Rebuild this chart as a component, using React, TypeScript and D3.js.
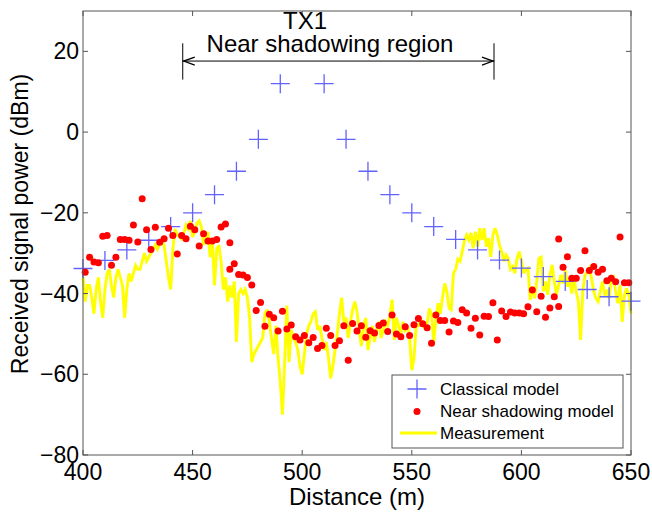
import React from "react";
import * as d3 from "d3";

const xTicks = [400, 450, 500, 550, 600, 650];
const yTicks = [-80, -60, -40, -20, 0, 20];

const classicalX = [400, 410, 420, 430, 440, 450, 460, 470, 480, 490, 510, 520, 530, 540, 550, 560, 570, 580, 590, 600, 610, 620, 630, 640, 650];
const classicalY = [-33.8, -31.8, -29.2, -26.8, -23.4, -20, -15.5, -9.7, -1.8, 12.0, 12.0, -1.8, -9.7, -15.5, -20, -23.4, -26.6, -29.2, -31.7, -33.7, -35.8, -37.0, -39.0, -40.8, -41.9];

const nearX = [401, 403, 405, 407, 409, 411, 413, 415, 417, 419, 421, 423, 425, 427, 429, 431, 433, 435, 437, 439, 441, 443, 445, 447, 449, 451, 453, 455, 457, 459, 461, 463, 465, 467, 467, 469, 471, 473, 475, 477, 479, 481, 483, 485, 487, 489, 491, 493, 495, 497, 499, 501, 503, 505, 507, 509, 511, 513, 515, 517, 519, 521, 523, 525, 527, 529, 531, 533, 535, 537, 539, 541, 543, 545, 547, 549, 551, 553, 555, 557, 559, 561, 563, 565, 567, 569, 571, 573, 575, 577, 579, 581, 583, 585, 587, 589, 591, 593, 595, 597, 599, 601, 603, 605, 607, 609, 611, 613, 615, 617, 617, 619, 621, 623, 625, 627, 629, 631, 633, 635, 637, 639, 641, 643, 645, 647, 649];
const nearY = [-34.7, -31.0, -32.2, -32.4, -25.8, -25.6, -33.0, -31.0, -26.6, -26.6, -26.8, -23.0, -27.2, -16.5, -24.2, -29.1, -23.6, -27.3, -26.4, -23.8, -25.6, -30.2, -25.6, -26.4, -23.3, -24.2, -28.2, -25.2, -27.0, -27.0, -26.6, -23.5, -22.8, -27.4, -34.0, -32.6, -35.3, -35.4, -36.0, -37.9, -44.2, -42.2, -48.1, -45.1, -46.0, -49.3, -44.4, -48.8, -47.8, -50.7, -51.5, -50.4, -52.2, -50.9, -53.6, -52.9, -48.6, -50.4, -52.9, -51.7, -48.0, -56.5, -47.4, -49.3, -48.0, -50.8, -49.2, -49.8, -47.9, -47.3, -49.4, -45.3, -50.0, -50.7, -48.2, -50.4, -47.7, -46.2, -47.5, -48.5, -52.3, -45.3, -46.7, -46.7, -49.5, -46.8, -47.2, -44.0, -44.8, -48.6, -46.1, -50.3, -45.6, -45.7, -42.3, -51.5, -44.3, -45.7, -44.6, -44.8, -44.8, -45.0, -43.3, -39.1, -44.5, -40.7, -45.9, -43.6, -40.8, -43.2, -26.5, -33.5, -30.9, -36.2, -36.2, -34.3, -29.4, -34.3, -33.3, -34.7, -34.0, -36.8, -36.2, -37.1, -26.0, -37.3, -37.3];

const measStart = 400;
const measY = [
  -36, -42, -38, -38, -41, -45, -39, -36, -42, -46,
  -39, -35, -34, -38, -41, -36, -34, -36, -38, -46,
  -39, -35, -37, -35, -33, -34, -34, -32, -30, -32,
  -31, -30, -29, -28, -29, -27.5, -27, -28, -32, -36,
  -39, -29, -24, -25.5, -26, -26.5, -25, -23, -24, -22,
  -26, -24.5, -22.5, -22, -23.5, -28, -25, -25, -31, -27,
  -38, -29, -28, -32, -39, -36, -42, -38, -41, -37,
  -52, -40, -39, -40, -39, -41, -46, -57, -55, -54,
  -53, -52, -51, -45, -44, -47, -51, -55, -48, -56,
  -62, -70, -57, -43, -57, -49, -51, -52, -54, -58,
  -60, -55, -50, -48, -47, -45, -44.5, -49, -48, -51,
  -54, -52, -56, -61, -58, -54, -50, -45, -41, -47,
  -46, -51, -47, -44, -42, -44.5, -49, -53, -48, -46,
  -54, -51, -48, -52, -49, -47, -51, -49, -47, -48,
  -45.5, -41.5, -51.5, -46, -48, -50, -47, -49, -48, -51,
  -59, -56, -48, -48, -46, -48, -48.6, -47.4, -43.7, -45,
  -52, -46.5, -42.4, -45, -41, -37.5, -39.5, -43.6, -44, -35,
  -34, -31.5, -32, -29.6, -27, -25.5, -26.7, -25, -28.8, -24.7,
  -28.4, -23.8, -26.7, -23.8, -28.4, -26.3, -30.9, -25.5, -23.8, -25.5,
  -28, -29.6, -32, -30.4, -31.3, -34, -33.3, -35, -31.3, -29.6,
  -32, -35, -34, -33.7, -41.6, -38.3, -41.2, -37, -31.3, -31,
  -39.5, -37, -40.3, -35.4, -32.9, -37, -40.3, -37.9, -35.4, -37.5,
  -34.2, -38.3, -36.2, -40, -36.2, -39.5, -42, -51.5, -39.5, -35.5,
  -34.6, -33.7, -36.2, -39.5, -41.2, -42, -39.5, -37, -40.3, -39.5,
  -41.2, -36.2, -35.8, -39.5, -42.4, -37.9, -47, -40.3, -38.7, -40.3,
  -44.9
];

const regionStart = 445.5;
const regionEnd = 587.5;
const regionArrowY = 17.6;
const regionBarTop = 22;
const regionBarBottom = 13;

const legendLabels = ["Classical model", "Near shadowing model", "Measurement"];

const FONT = "'Liberation Sans', Arial, Helvetica, sans-serif";
const BLUE = "#6262ff";
const RED = "#ff0000";
const YELLOW = "#ffff00";
const AXIS = "#555";

export default function App() {
  const W = 652;
  const H = 512;
  const m = { left: 83, right: 631, top: 11, bottom: 455 };
  const x = d3.scaleLinear().domain([400, 650]).range([m.left, m.right]);
  const y = d3.scaleLinear().domain([-80, 30]).range([m.bottom, m.top]);

  const measData = measY.map((v, i) => [measStart + i, v] as [number, number]);
  const linePath = d3
    .line<[number, number]>()
    .x((d) => x(d[0]))
    .y((d) => y(d[1]))(measData) as string;

  const cs = 9.5;
  const crossPath = (cx: number, cy: number) =>
    `M${cx - cs},${cy}H${cx + cs}M${cx},${cy - cs}V${cy + cs}`;

  const tickLen = 5;

  const ax1 = x(regionStart);
  const ax2 = x(regionEnd);
  const ay = y(regionArrowY);
  const barT = y(regionBarTop);
  const barB = y(regionBarBottom);

  const lg = { x: 392, y: 375, w: 231, h: 73 };

  return (
    <svg
      width={W}
      height={H}
      style={{ position: "absolute", left: 0, top: 0, background: "#fff" }}
      fontFamily={FONT}
    >
      <rect x={0} y={0} width={W} height={H} fill="#fff" />

      {/* measurement line */}
      <path d={linePath} fill="none" stroke={YELLOW} strokeWidth={2.9} strokeLinejoin="miter" strokeMiterlimit={3} />

      {/* classical model */}
      {classicalX.map((cx, i) => (
        <path key={"c" + i} d={crossPath(x(cx), y(classicalY[i]))} stroke={BLUE} strokeWidth={1.3} fill="none" />
      ))}

      {/* near shadowing model */}
      {nearX.map((nx, i) => (
        <circle key={"n" + i} cx={x(nx)} cy={y(nearY[i])} r={3.5} fill={RED} />
      ))}

      {/* axes box */}
      <rect x={m.left} y={m.top} width={m.right - m.left} height={m.bottom - m.top} fill="none" stroke={AXIS} strokeWidth={1} />
      {xTicks.map((t) => (
        <g key={"xt" + t}>
          <line x1={x(t)} x2={x(t)} y1={m.bottom} y2={m.bottom - tickLen} stroke={AXIS} />
          <line x1={x(t)} x2={x(t)} y1={m.top} y2={m.top + tickLen} stroke={AXIS} />
          <text x={x(t)} y={480} textAnchor="middle" fontSize={23} fill="#000">
            {t}
          </text>
        </g>
      ))}
      {yTicks.map((t) => (
        <g key={"yt" + t}>
          <line x1={m.left} x2={m.left + tickLen} y1={y(t)} y2={y(t)} stroke={AXIS} />
          <line x1={m.right} x2={m.right - tickLen} y1={y(t)} y2={y(t)} stroke={AXIS} />
          <text x={79} y={y(t) + 8} textAnchor="end" fontSize={23} fill="#000">
            {t < 0 ? "\u2212" + Math.abs(t) : String(t)}
          </text>
        </g>
      ))}

      {/* axis labels */}
      <text x={(m.left + m.right) / 2} y={505} textAnchor="middle" fontSize={24} fill="#000">
        Distance (m)
      </text>
      <text
        transform={`translate(28,224) rotate(-90)`}
        textAnchor="middle"
        fontSize={23}
        fill="#000"
      >
        Received signal power (dBm)
      </text>

      {/* annotation */}
      <text x={305} y={29} textAnchor="middle" fontSize={24} fill="#000">
        TX1
      </text>
      <text x={330} y={52} textAnchor="middle" fontSize={24} fill="#000">
        Near shadowing region
      </text>
      <line x1={ax1} x2={ax2} y1={ay} y2={ay} stroke="#000" strokeWidth={1} />
      <line x1={ax1} x2={ax1} y1={barT} y2={barB} stroke="#000" strokeWidth={1} />
      <line x1={ax2} x2={ax2} y1={barT} y2={barB} stroke="#000" strokeWidth={1} />
      <path d={`M${ax1 + 12},${ay - 4}L${ax1 + 1},${ay}L${ax1 + 12},${ay + 4}`} fill="none" stroke="#000" strokeWidth={1.3} />
      <path d={`M${ax2 - 12},${ay - 4}L${ax2 - 1},${ay}L${ax2 - 12},${ay + 4}`} fill="none" stroke="#000" strokeWidth={1.3} />

      {/* legend */}
      <rect x={lg.x} y={lg.y} width={lg.w} height={lg.h} fill="#fff" stroke={AXIS} strokeWidth={1} />
      <path d={crossPath(417, 389)} stroke={BLUE} strokeWidth={1.3} fill="none" />
      <circle cx={417} cy={411.5} r={3.5} fill={RED} />
      <line x1={400} x2={437} y1={433} y2={433} stroke={YELLOW} strokeWidth={2.9} />
      {legendLabels.map((l, i) => (
        <text key={l} x={440} y={395 + i * 22} fontSize={17} fill="#000">
          {l}
        </text>
      ))}
    </svg>
  );
}
